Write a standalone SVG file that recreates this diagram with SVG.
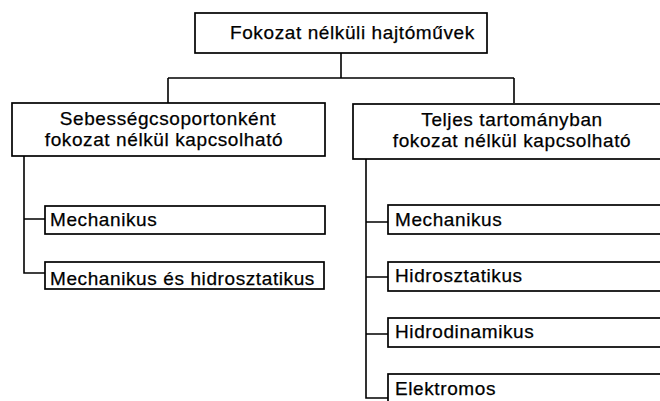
<svg xmlns="http://www.w3.org/2000/svg" width="660" height="401" viewBox="0 0 660 401">
  <style>
    .box { fill: #ffffff; stroke: #000000; stroke-width: 1.7; }
    .wire { fill: none; stroke: #000000; stroke-width: 1.6; }
    .lbl { font-family: "Liberation Sans", Arial, sans-serif; font-size: 19px; letter-spacing: 0.6px; fill: #000000; stroke: #000000; stroke-width: 0.25; }
    .mid { text-anchor: middle; }
  </style>
  <rect width="660" height="401" fill="#ffffff"/>

  <!-- connectors -->
  <g id="connectors">
    <path class="wire" d="M341 53 V78 M168 78 H514 M168 78 V103 M514 78 V103"/>
    <path class="wire" d="M24 156 V273 H45 M24 219 H45"/>
    <path class="wire" d="M366 159 V398 H388 M366 222 H388 M366 277 H388 M366 334 H388"/>
  </g>

  <!-- root -->
  <g id="root">
    <rect class="box" x="195" y="13" width="292" height="40"/>
    <text class="lbl" x="230" y="39">Fokozat nélküli hajtóművek</text>
  </g>

  <!-- left branch -->
  <g id="left-group">
    <rect class="box" x="12" y="103" width="313" height="53"/>
    <text class="lbl mid" x="168" y="125">Sebességcsoportonként</text>
    <text class="lbl mid" x="164" y="146">fokozat nélkül kapcsolható</text>
  </g>
  <g id="left-mech">
    <rect class="box" x="45" y="206" width="280" height="28"/>
    <text class="lbl" x="50" y="226">Mechanikus</text>
  </g>
  <g id="left-mech-hydro">
    <rect class="box" x="45" y="262" width="279" height="27"/>
    <text class="lbl" x="50" y="285">Mechanikus és hidrosztatikus</text>
  </g>

  <!-- right branch -->
  <g id="right-group">
    <rect class="box" x="353" y="104" width="320" height="55"/>
    <text class="lbl mid" x="512" y="126">Teljes tartományban</text>
    <text class="lbl mid" x="512" y="147">fokozat nélkül kapcsolható</text>
  </g>
  <g id="right-mech">
    <rect class="box" x="388" y="205" width="285" height="29"/>
    <text class="lbl" x="395" y="226">Mechanikus</text>
  </g>
  <g id="right-hydrostatic">
    <rect class="box" x="388" y="262" width="285" height="29"/>
    <text class="lbl" x="395" y="282">Hidrosztatikus</text>
  </g>
  <g id="right-hydrodynamic">
    <rect class="box" x="388" y="318" width="285" height="29"/>
    <text class="lbl" x="395" y="338">Hidrodinamikus</text>
  </g>
  <g id="right-electric">
    <rect class="box" x="388" y="374" width="285" height="40"/>
    <text class="lbl" x="395" y="395">Elektromos</text>
  </g>
</svg>
